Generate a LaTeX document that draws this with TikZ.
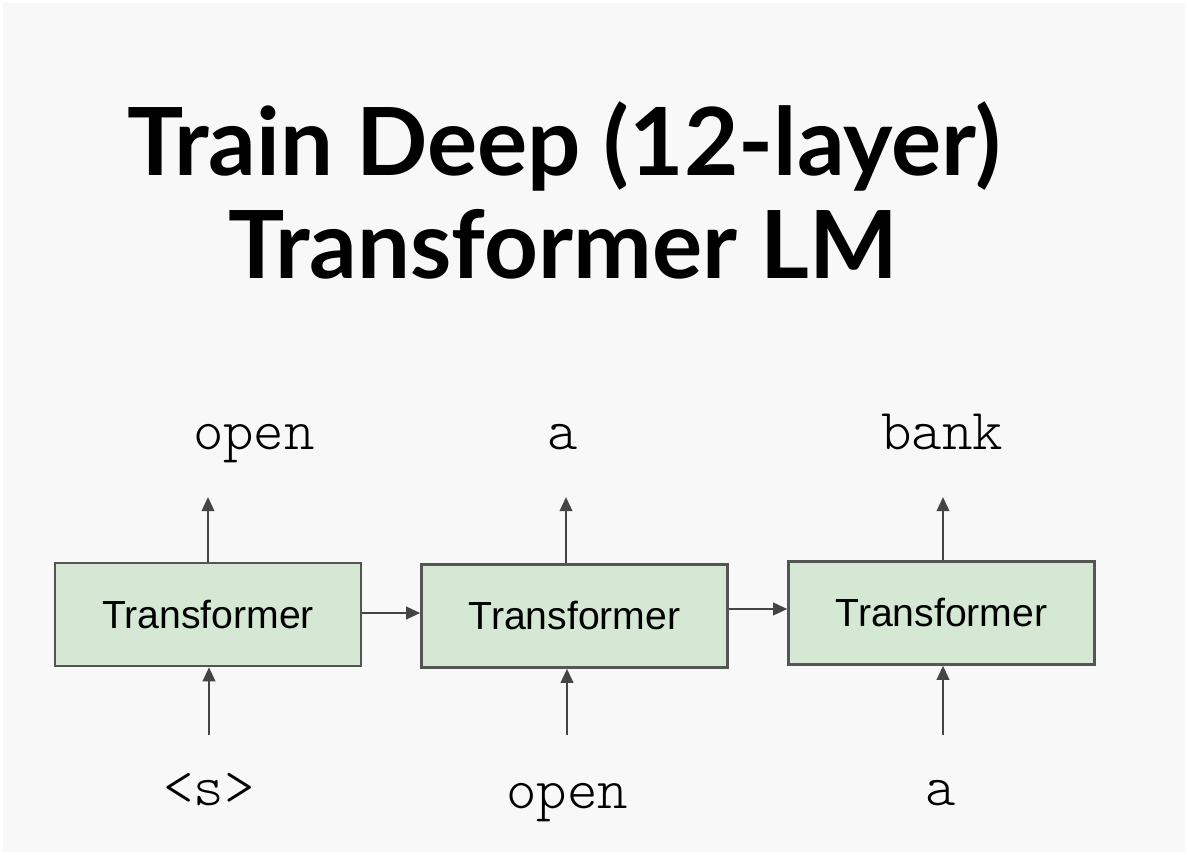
\documentclass[tikz,border=0pt]{standalone}
\usepackage{fontspec}
\setmainfont{Liberation Sans}
\newfontfamily\titlefont{Lato}
\newfontfamily\tokfont{Latin Modern Mono Light}
\usetikzlibrary{arrows.meta}
\definecolor{bgc}{HTML}{F8F8F8}
\definecolor{boxfill}{HTML}{D5E8D4}
\definecolor{boxline}{HTML}{555555}
\definecolor{arrowc}{HTML}{444444}
\tikzset{
  tbox/.style={draw=boxline, line width=1.4pt, fill=boxfill, minimum width=6.12cm, minimum height=2.06cm, inner sep=0pt, font=\fontsize{22.3}{26}\selectfont},
  tok/.style={font=\tokfont\fontsize{33}{36}\selectfont, anchor=base, inner sep=0pt},
  ttl/.style={font=\titlefont\bfseries\fontsize{53.5}{60}\selectfont, anchor=base, inner sep=0pt},
  conn/.style={draw=arrowc, line width=1.5pt, -{Triangle[length=8pt,width=7pt]}}
}
\begin{document}
\begin{tikzpicture}[x=0.02cm,y=-0.02cm]
\fill[white] (0,0) rectangle (1188,855);
\fill[bgc] (3,3) rectangle (1185,852);
\useasboundingbox (0,0) rectangle (1188,855);
\node[ttl] (t1) at (564,175) {Train Deep (12-layer)};
\node[ttl] (t2) at (563,278) {Transformer LM};
\node[tbox] (b1) at (208,614.5) {Transformer};
\node[tbox] (b2) at (574.5,616) {Transformer};
\node[tbox] (b3) at (941.5,613) {Transformer};
\node[tok] (o1) at (254,449) {open};
\node[tok] (o2) at (563,449) {a};
\node[tok] (o3) at (942,449) {bank};
\node[tok] (i1) at (209,805) {<s>};
\node[tok] (i2) at (567,808) {open};
\node[tok] (i3) at (941,805) {a};
\coordinate (u1) at (208,497);
\coordinate (u2) at (566,497);
\coordinate (u3) at (943,497);
\coordinate (d1) at (209,735);
\coordinate (d2) at (567,735);
\coordinate (d3) at (943,735);
\draw[conn] (b1.north -| u1) -- (u1);
\draw[conn] (b2.north -| u2) -- (u2);
\draw[conn] (b3.north -| u3) -- (u3);
\draw[conn] (d1) -- (b1.south -| d1);
\draw[conn] (d2) -- (b2.south -| d2);
\draw[conn] (d3) -- (b3.south -| d3);
\draw[conn] (b1.east |- 0,613) -- (b2.west |- 0,613);
\draw[conn] (b2.east |- 0,609) -- (b3.west |- 0,609);
\end{tikzpicture}
\end{document}
